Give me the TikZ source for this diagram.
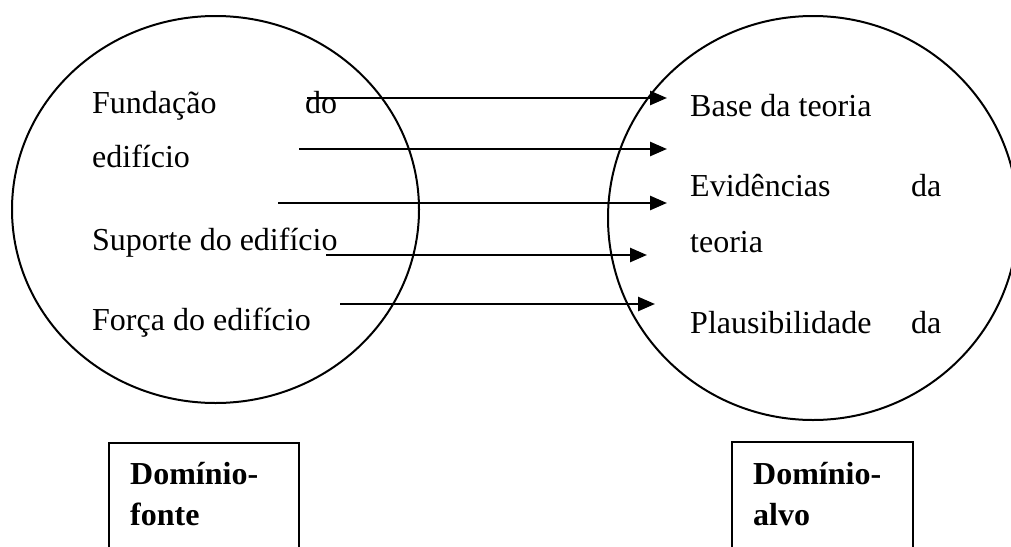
\documentclass[tikz,border=0pt]{standalone}
\usepackage{fontspec}
\setmainfont{Liberation Serif}
\usetikzlibrary{arrows.meta,positioning}

\tikzset{
    txt/.style={anchor=base west, inner sep=0pt, font=\fontsize{32}{38}\selectfont},
    rotulo/.style={txt, font=\fontsize{32}{38}\selectfont\bfseries},
    seta/.style={line width=2.6pt, -{Triangle[length=17pt,width=14pt]}},
    caixa/.style={line width=2pt}
}

\begin{document}
\begin{tikzpicture}[x=1pt,y=-1pt]
                \useasboundingbox (0,0) rectangle (1011,546);
                \clip (0,0) rectangle (1011,546);

                % dominios
                \draw [line width=2pt] (215.5,209.5) ellipse [x radius=203.5pt, y radius=193.5pt];
                \draw [line width=2pt] (813,218) ellipse [x radius=205pt, y radius=202pt];

                % fonte
                \node [txt] (fund) at (92,113) {\makebox[245pt][l]{Funda\c{c}\~ao\hfill do}};
                \node [txt] (edif) at (92,167) {edif\'{\i}cio};
                \node [txt] (sup) at (92,250) {Suporte do edif\'{\i}cio};
                \node [txt] (forc) at (92,330) {For\c{c}a do edif\'{\i}cio};

                % alvo
                \node [txt] (base) at (690,116) {Base da teoria};
                \node [txt] (evid) at (690,196) {\makebox[251pt][l]{Evid\^encias\hfill da}};
                \node [txt] (teor) at (690,252) {teoria};
                \node [txt] (plaus) at (690,333) {\makebox[251pt][l]{Plausibilidade\hfill da}};

                \foreach \n/\y/\xa/\xb in {1/98/307/667, 2/149/299/667, 3/203/278/667, 4/255/326/647, 5/304/340/655}
                {
                    \coordinate (s\n) at (\xa,\y);
                    \coordinate (t\n) at (\xb,\y);
                    \draw [seta] (s\n) -- (t\n);
                }

                % caixas
                \draw [caixa] (109,600) -- (109,443) -- (299,443) -- (299,600);
                \draw [caixa] (732,600) -- (732,442) -- (913,442) -- (913,600);
                \node [rotulo] (df1) at (130,484) {Dom\'{\i}nio-};
                \node [rotulo] (df2) at (130,525) {fonte};
                \node [rotulo] (da1) at (753,484) {Dom\'{\i}nio-};
                \node [rotulo] (da2) at (753,525) {alvo};
            \end{tikzpicture}
\end{document}
